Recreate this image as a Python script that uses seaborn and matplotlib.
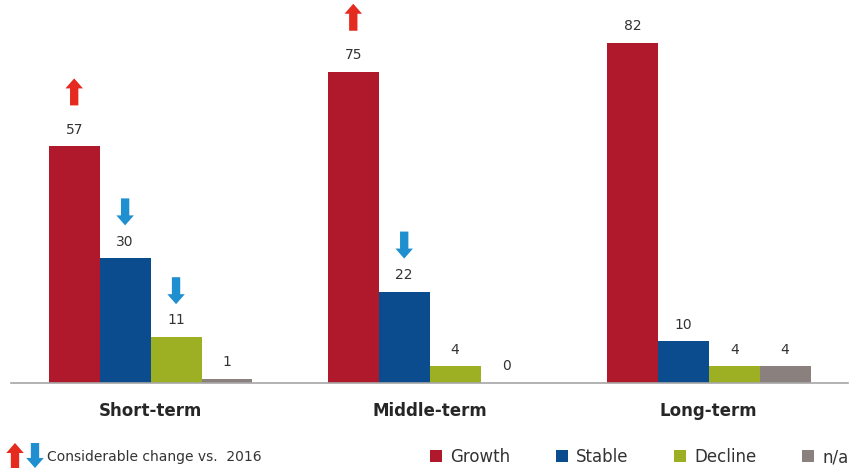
import pandas as pd
import seaborn as sns
import matplotlib.pyplot as plt
from matplotlib.patches import Patch

terms = ["Short-term", "Middle-term", "Long-term"]
series = ["Growth", "Stable", "Decline", "n/a"]
growth = [57, 75, 82]
stable = [30, 22, 10]
decline = [11, 4, 4]
na = [1, 0, 4]
# arrows: (term, series, direction)
changes = [("Short-term", "Growth", "up"), ("Short-term", "Stable", "down"),
           ("Short-term", "Decline", "down"), ("Middle-term", "Growth", "up"),
           ("Middle-term", "Stable", "down")]

colors = ["#B0182B", "#0A4C8E", "#9DB023", "#8A807D"]
red_arrow = "#E52A20"
blue_arrow = "#1F8FCF"

rows = []
for vals, s in zip([growth, stable, decline, na], series):
    for t, v in zip(terms, vals):
        rows.append({"term": t, "series": s, "value": v})
df = pd.DataFrame(rows)

sns.set_style("white")
plt.rcParams['font.family'] = ['DejaVu Sans']

fig = plt.figure(figsize=(8.5, 4.68), dpi=100)
ax = fig.add_axes([0.013, 0.182, 0.985, 0.818])

sns.barplot(data=df, x="term", y="value", hue="series", order=terms, hue_order=series,
            palette=colors, width=0.73, saturation=1, gap=0, ax=ax, legend=False,
            edgecolor="none", linewidth=0)

for cont in ax.containers:
    ax.bar_label(cont, padding=7, fontsize=10, color="#333333")

ax.set_ylim(0, 92.3)
ax.set_xlim(-0.5, 2.5)
ax.set_xlabel("")
ax.set_ylabel("")
ax.set_yticks([])
for s in ["top", "right", "left"]:
    ax.spines[s].set_visible(False)
ax.spines["bottom"].set_color("#A6A6A6")
ax.spines["bottom"].set_linewidth(1.2)
ax.set_xticks([-0.5, 0.5, 1.5, 2.5], minor=True)
ax.tick_params(axis="x", which="minor", length=6, color="#A6A6A6", width=1.2, direction="out")
ax.tick_params(axis="x", which="major", length=0, pad=14)
for lbl in ax.get_xticklabels():
    lbl.set_fontweight("bold")
    lbl.set_fontsize(12)
    lbl.set_color("#262626")

# change arrows above bars
px = 92.3 / (468 * 0.818)  # data units per pixel
style = "simple,head_length=0.6,head_width=1.05,tail_width=0.5"
for t, s, d in changes:
    cont = ax.containers[series.index(s)]
    bar = cont.patches[terms.index(t)]
    x = bar.get_x() + bar.get_width() / 2
    v = bar.get_height()
    if d == "up":
        tail, head, c = v + 41 * px, v + 68 * px, red_arrow
    else:
        tail, head, c = v + 60 * px, v + 33 * px, blue_arrow
    ax.annotate("", xy=(x, head), xytext=(x, tail),
                arrowprops=dict(arrowstyle=style, color=c, mutation_scale=12,
                                shrinkA=0, shrinkB=0, lw=0))

# footnote arrows
ax.annotate("", xy=(15, 25), xycoords="figure pixels", xytext=(15, 0), textcoords="figure pixels",
            arrowprops=dict(arrowstyle=style, color=red_arrow, mutation_scale=12,
                            shrinkA=0, shrinkB=0, lw=0),
            annotation_clip=False)
ax.annotate("", xy=(35, 0), xycoords="figure pixels", xytext=(35, 25), textcoords="figure pixels",
            arrowprops=dict(arrowstyle=style, color=blue_arrow, mutation_scale=12,
                            shrinkA=0, shrinkB=0, lw=0),
            annotation_clip=False)
fig.text(47 / 850, 1 - 457 / 468, "Considerable change vs.  2016", fontsize=10,
         color="#333333", va="center", ha="left")

handles = [Patch(facecolor=c, edgecolor="none") for c in colors]
fig.legend(handles, series, ncol=4, loc="center right", bbox_to_anchor=(1.016, 1 - 457 / 468),
           frameon=False, fontsize=12, handlelength=0.7, handleheight=0.7, handletextpad=0.5,
           columnspacing=2.75, labelcolor="#333333")

fig.savefig("out.png", dpi=100)
